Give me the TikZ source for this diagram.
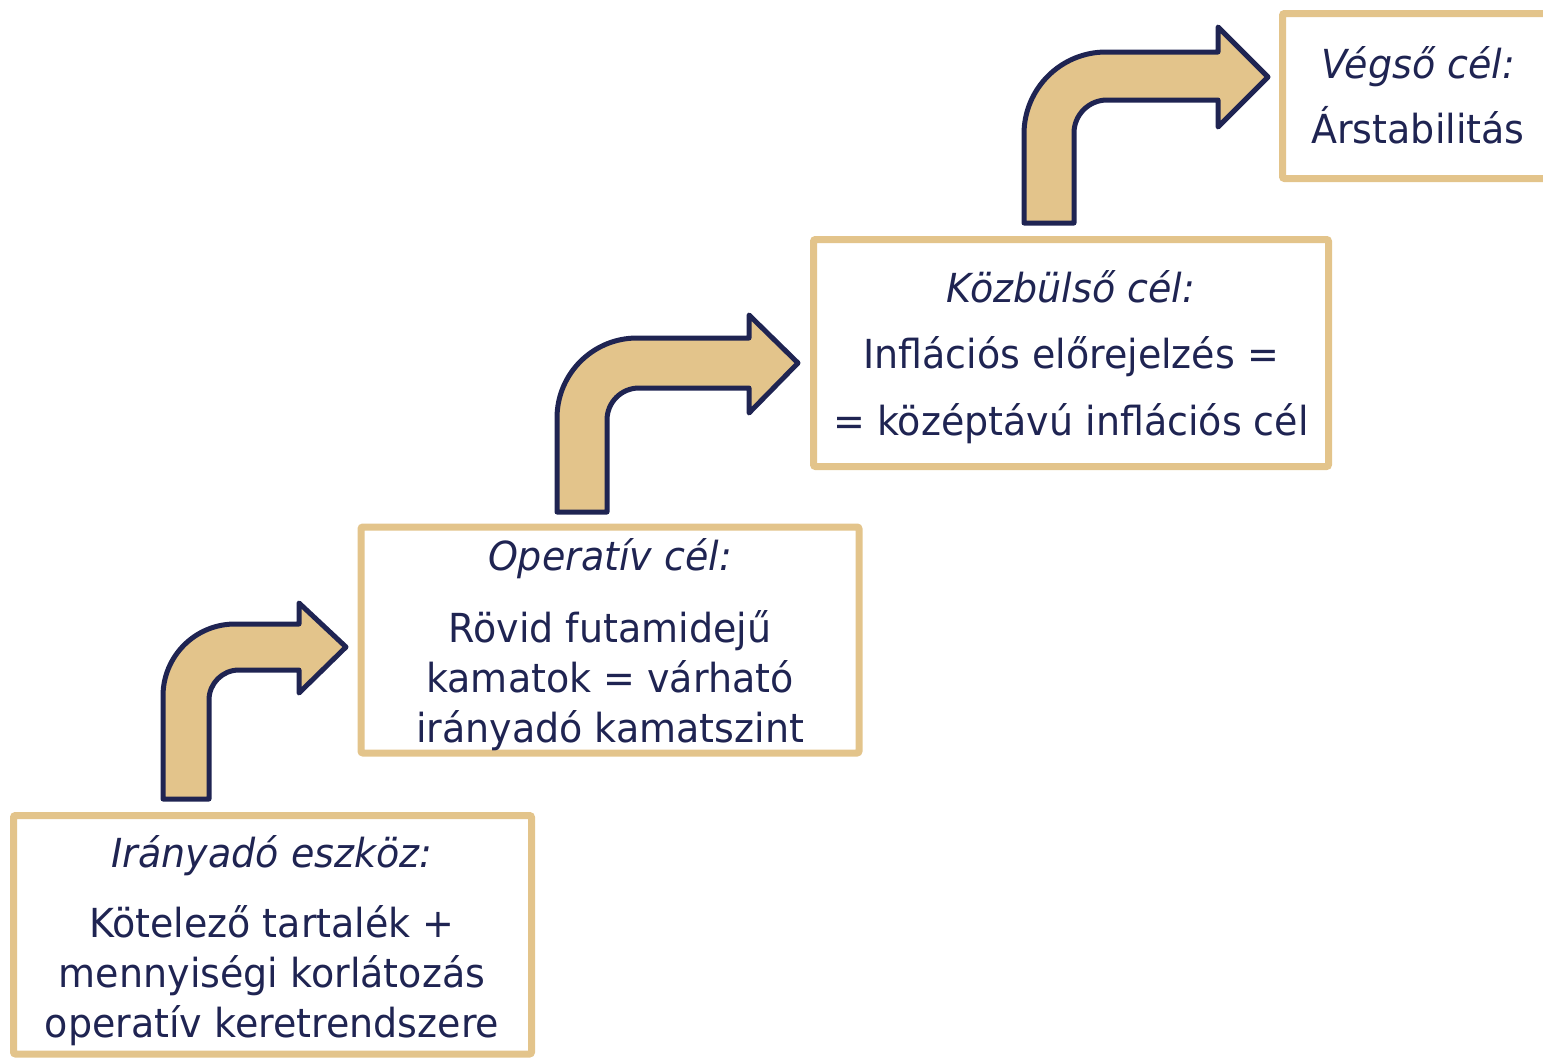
\documentclass[tikz,border=0pt]{standalone}
\usepackage{fontspec}
\setmainfont{DejaVu Sans}[FakeStretch=0.95]
\definecolor{navy}{HTML}{1F2452}
\definecolor{tan}{HTML}{E3C48B}
\tikzset{
  goalbox/.style={draw=tan, line width=7pt, rounded corners=2pt, fill=white},
  bentarrow/.style={draw=navy, fill=tan, line width=5pt, line join=round},
  ttl/.style={text=navy, anchor=base, inner sep=0pt, font=\fontsize{40}{50}\selectfont\itshape},
  body/.style={text=navy, anchor=base, inner sep=0pt, align=center, font=\fontsize{40}{50}\selectfont},
}
\begin{document}
\begin{tikzpicture}[x=1pt,y=-1pt]
\useasboundingbox (0,0) rectangle (1543,1060);
\clip (0,0) rectangle (1543,1060);
% boxes
\draw[goalbox] (13.5,815.5) rectangle (531.5,1054);
\draw[goalbox] (361,527) rectangle (859,753);
\draw[goalbox] (813.5,239.5) rectangle (1328.5,466.5);
\draw[goalbox] (1282.5,13.5) rectangle (1570,178.5);
% box 1
\node[ttl] (t1) at (272,867) {Irányadó eszköz:};
\node[body] (b1) at (272,1037) {Kötelező tartalék +\\mennyiségi korlátozás\\operatív keretrendszere};
% box 2
\node[ttl] (t2) at (610,570) {Operatív cél:};
\node[body] (b2) at (610,742) {Rövid futamidejű\\kamatok = várható\\irányadó kamatszint};
% box 3
\node[ttl] (t3) at (1071,302) {Közbülső cél:};
\node[body] (b3) at (1071,435) {Inflációs előrejelzés =\\[17pt]= középtávú inflációs cél};
% box 4
\node[ttl] (t4) at (1418,78) {Végső cél:};
\node[body] (b4) at (1418,143) {Árstabilitás};
% arrows
\draw[bentarrow] (163,799) -- (163,696) .. controls (163,656.2) and (195.2,624) .. (235,624)
  -- (299,624) -- (299,603) -- (346,647) -- (299,693) -- (299,670) -- (239,670)
  .. controls (222.4,670) and (209,683.4) .. (209,700) -- (209,799) -- cycle;
\draw[bentarrow] (557,512) -- (557,418) .. controls (557,373.8) and (592.8,338) .. (637,338)
  -- (749,338) -- (749,315) -- (798,363) -- (749,413) -- (749,388) -- (639,388)
  .. controls (621.3,388) and (607,402.3) .. (607,420) -- (607,512) -- cycle;
\draw[bentarrow] (1024,223) -- (1024,134) .. controls (1024,88.7) and (1060.7,52) .. (1106,52)
  -- (1218,52) -- (1218,27) -- (1268,77) -- (1218,127) -- (1218,100) -- (1107,100)
  .. controls (1088.8,100) and (1074,114.8) .. (1074,133) -- (1074,223) -- cycle;
\end{tikzpicture}
\end{document}
